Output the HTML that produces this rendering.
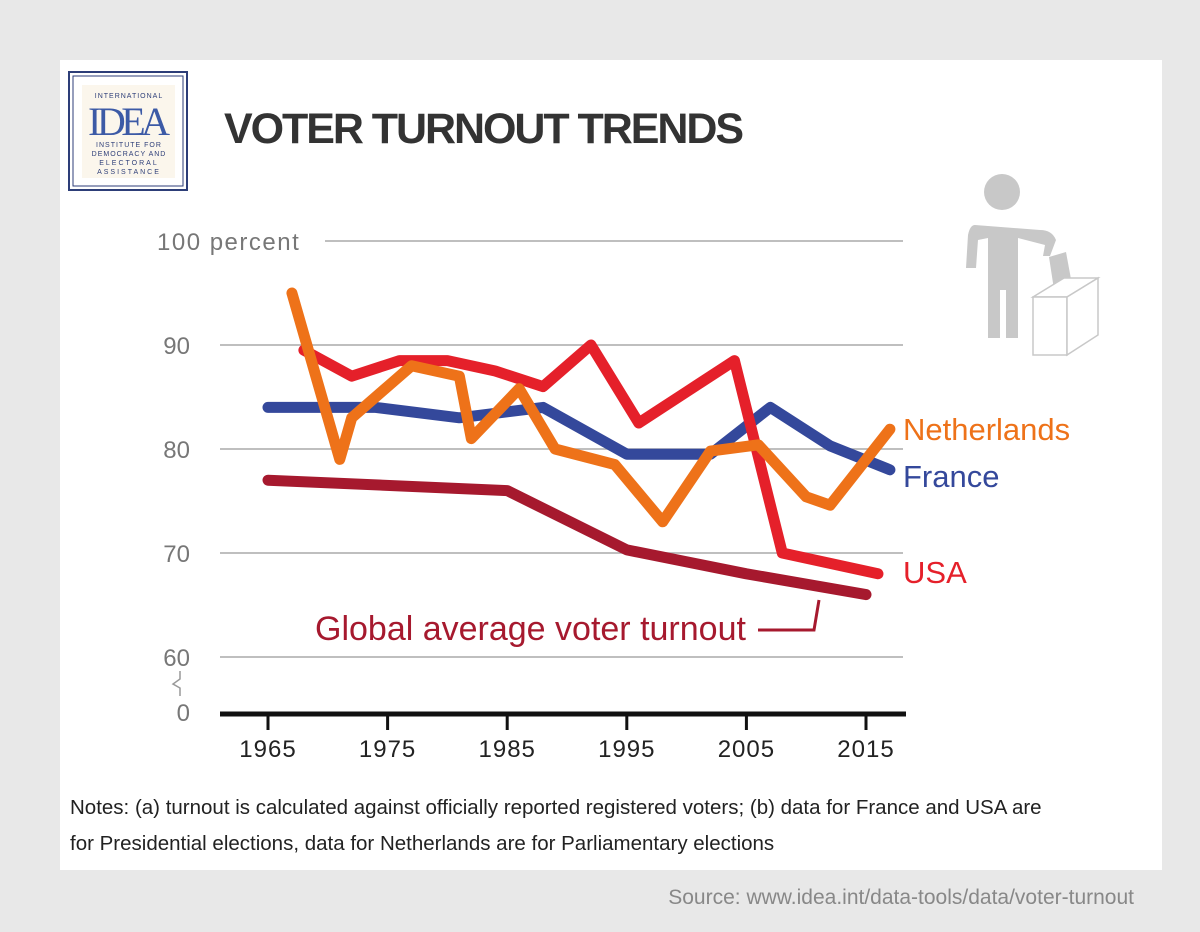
<!DOCTYPE html>
<html><head><meta charset="utf-8">
<style>
body{margin:0;width:1200px;height:927px;background:#e8e8e8;font-family:"Liberation Sans",sans-serif;overflow:hidden}
</style></head>
<body>
<svg width="1200" height="927" xmlns="http://www.w3.org/2000/svg">
<rect x="60" y="60" width="1102" height="810" fill="#fff"/>
<g>
<rect x="69" y="72" width="118" height="118" fill="none" stroke="#2d3e78" stroke-width="2"/>
<rect x="73" y="76" width="110" height="110" fill="none" stroke="#2d3e78" stroke-width="1"/>
<rect x="82" y="85" width="93" height="93" fill="#fbf6ec"/>
<text x="129" y="98" font-size="7" text-anchor="middle" fill="#2d3e78" letter-spacing="1">INTERNATIONAL</text>
<text x="129" y="135" font-size="40" text-anchor="middle" fill="#3c5aa6" font-family="Liberation Serif,serif" textLength="82">IDEA</text>
<text x="129" y="147" font-size="7" text-anchor="middle" fill="#2d3e78" letter-spacing="1">INSTITUTE FOR</text>
<text x="129" y="156" font-size="7" text-anchor="middle" fill="#2d3e78" letter-spacing="1">DEMOCRACY AND</text>
<text x="129" y="165" font-size="7" text-anchor="middle" fill="#2d3e78" letter-spacing="2">ELECTORAL</text>
<text x="129" y="174" font-size="7" text-anchor="middle" fill="#2d3e78" letter-spacing="2">ASSISTANCE</text>
</g>
<text x="224" y="143" font-size="43" font-weight="bold" fill="#333" textLength="520">VOTER TURNOUT TRENDS</text>
<g fill="#c8c8c8">
<circle cx="1002" cy="192" r="18"/>
<path d="M975,225 Q970,225 968,235 L966,268 L976,268 L978,240 L988,238 L988,338 L1000,338 L1000,290 L1006,290 L1006,338 L1018,338 L1018,238 L1045,245 L1043,256 L1050,256 L1056,240 Q1052,230 1040,230 Z"/>
<polygon points="1049,257 1066,252 1073,290 1055,296"/>
<g fill="#fff" stroke="#c8c8c8" stroke-width="1.5"><polygon points="1033,297 1067,297 1098,278 1064,278"/><rect x="1033" y="297" width="34" height="58"/><polygon points="1067,297 1098,278 1098,335 1067,355"/></g>
</g>
<g id="axes"></g>
<g id="series"></g>
<text x="903" y="440" font-size="31" fill="#ee7219">Netherlands</text>
<text x="903" y="487" font-size="31" fill="#34489b">France</text>
<text x="903" y="583" font-size="31" fill="#e5202a">USA</text>
<text x="315" y="640" font-size="34" fill="#a6192e">Global average voter turnout</text>
<polyline points="758,630 814,630 819,600" fill="none" stroke="#a6192e" stroke-width="3"/>
<text x="70" y="814" font-size="20.5" fill="#222">Notes: (a) turnout is calculated against officially reported registered voters; (b) data for France and USA are</text>
<text x="70" y="850" font-size="20.5" fill="#222">for Presidential elections, data for Netherlands are for Parliamentary elections</text>
<text x="1134" y="904" font-size="21" fill="#888" text-anchor="end">Source: www.idea.int/data-tools/data/voter-turnout</text>
</svg>
<script>
const yTicks=[60,70,80,90,100];
const yTickLabels=["60","70","80","90","100 percent"];
const xTicks=[1965,1975,1985,1995,2005,2015];
const franceYears=[1965,1969,1974,1981,1988,1995,2002,2007,2012,2017];
const franceValues=[84,84,84,83,84,79.5,79.5,84,80.3,78];
const usaYears=[1968,1972,1976,1980,1984,1988,1992,1996,2000,2004,2008,2012,2016];
const usaValues=[89.5,87,88.5,88.5,87.5,86,90,82.5,85.5,88.5,70,69,68];
const nlYears=[1967,1971,1972,1977,1981,1982,1986,1989,1994,1998,2002,2006,2010,2012,2017];
const nlValues=[95,79,83,88,87,81,85.8,80,78.5,73,79.8,80.4,75.4,74.6,81.9];
const globalYears=[1965,1985,1995,2005,2015];
const globalValues=[77,76,70.3,68,66];
const NS='http://www.w3.org/2000/svg';
function x(yr){return 268+(yr-1965)*11.96;}
function y(v){return 657-(v-60)*10.4;}
const ax=document.getElementById('axes');
yTicks.forEach((t,i)=>{
 const l=document.createElementNS(NS,'line');
 l.setAttribute('x1',i==4?325:220);l.setAttribute('x2',903);l.setAttribute('y1',y(t));l.setAttribute('y2',y(t));
 l.setAttribute('stroke','#aaa');l.setAttribute('stroke-width','1.5');
 
 
 ax.appendChild(l);
 const tx=document.createElementNS(NS,'text');
 tx.setAttribute('x',i==4?157:190);tx.setAttribute('y',y(t)+9);tx.setAttribute('font-size','24');tx.setAttribute('fill','#777');
 if(i!=4)tx.setAttribute('text-anchor','end');
 if(i==4)tx.setAttribute('letter-spacing','1.5');
 tx.textContent=yTickLabels[i];
 
 
 ax.appendChild(tx);
});
const z=document.createElementNS(NS,'text');
z.setAttribute('x',190);z.setAttribute('y',721);z.setAttribute('font-size','24');z.setAttribute('fill','#777');z.setAttribute('text-anchor','end');z.textContent='0';


ax.appendChild(z);
const br=document.createElementNS(NS,'polyline');
br.setAttribute('points','180,696 180,688 173,684 180,679 180,671');br.setAttribute('fill','none');br.setAttribute('stroke','#999');br.setAttribute('stroke-width','1.5');


ax.appendChild(br);
const base=document.createElementNS(NS,'line');
base.setAttribute('x1',220);base.setAttribute('x2',906);base.setAttribute('y1',714);base.setAttribute('y2',714);base.setAttribute('stroke','#111');base.setAttribute('stroke-width','5');


ax.appendChild(base);
xTicks.forEach(t=>{
 const l=document.createElementNS(NS,'line');
 l.setAttribute('x1',x(t));l.setAttribute('x2',x(t));l.setAttribute('y1',714);l.setAttribute('y2',730);l.setAttribute('stroke','#111');l.setAttribute('stroke-width','3');
 
 
 ax.appendChild(l);
 const tx=document.createElementNS(NS,'text');
 tx.setAttribute('x',x(t));tx.setAttribute('y',757);tx.setAttribute('font-size','24');tx.setAttribute('fill','#222');tx.setAttribute('text-anchor','middle');tx.setAttribute('letter-spacing','1');
 tx.textContent=t;
 
 
 ax.appendChild(tx);
});
const sg=document.getElementById('series');
function line(ys,vs,col,name){
 const p=document.createElementNS(NS,'polyline');
 p.setAttribute('points',ys.map((yr,i)=>x(yr)+','+y(vs[i])).join(' '));
 p.setAttribute('fill','none');p.setAttribute('stroke',col);p.setAttribute('stroke-width','11');
 p.setAttribute('stroke-linejoin','round');p.setAttribute('stroke-linecap','round');
 
 
 sg.appendChild(p);
}
line(globalYears,globalValues,'#a6192e','line-global-average');
line(franceYears,franceValues,'#34489b','line-france');
line(usaYears,usaValues,'#e5202a','line-usa');
line(nlYears,nlValues,'#ee7219','line-netherlands');
</script>
</body></html>
